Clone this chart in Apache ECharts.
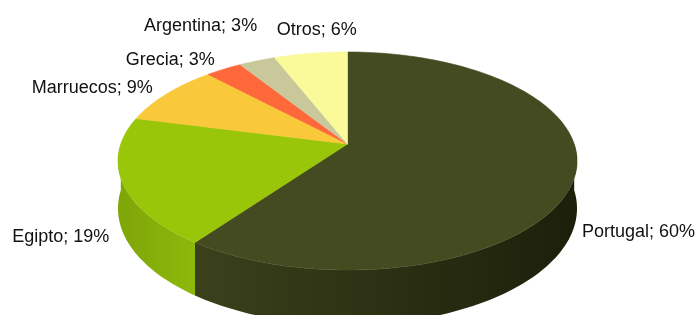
<!DOCTYPE html>
<html>
<head>
<meta charset="utf-8">
<script src="https://cdn.jsdelivr.net/npm/echarts@6/dist/echarts.min.js"></script>
<style>
  html, body { margin: 0; background: #fff; }
  #chart { width: 700px; height: 315px; }
</style>
</head>
<body>
<div id="chart"></div>
<script>
  // datos
  var paises = ["Portugal", "Egipto", "Marruecos", "Grecia", "Argentina", "Otros"];
  var cuotas = [60, 19, 9, 3, 3, 6];

  // colores de la cara superior y del lateral (izq -> der)
  var colores = ["#444b20", "#9ac60a", "#fac93b", "#ff683b", "#c9c89a", "#fafa9b"];
  var coloresLado = [
    ["#3a411b", "#1c200b"],
    ["#7fa508", "#8db90a"],
    ["#d9a92c", "#e6b533"],
    ["#d9552f", "#e65d33"],
    ["#a9a880", "#b5b489"],
    ["#d7d683", "#e2e18a"]
  ];

  // geometria del pastel 3D (proyeccion con algo de perspectiva)
  var cx = 347.5, R = 226.7;
  var persp = 0.156, py = 83.9, qy = 144, grosor = 46.3;
  // ajuste de las etiquetas respecto al borde del sector
  var ajusteEtiqueta = [[8, 53], [-13, 55], [-14, -6], [-9, -9], [0, -35], [-34, -23]];
  var alineaEtiqueta = ["left", "right", "right", "right", "right", "left"];

  var total = cuotas.reduce(function (a, b) { return a + b; }, 0);

  // theta en grados, en sentido horario desde las 12
  function punto(theta, abajo) {
    var r = theta * Math.PI / 180;
    var u = Math.sin(r), v = -Math.cos(r);
    var den = 1 - persp * v;
    var x = cx + R * u / den;
    var y = (py * v + qy) / den;
    if (abajo) y += grosor / den;
    return [x, y];
  }
  function arco(a0, a1, abajo) {
    var pts = [];
    var n = Math.max(2, Math.ceil((a1 - a0) / 1.5));
    for (var i = 0; i <= n; i++) {
      pts.push(punto(a0 + (a1 - a0) * i / n, abajo));
    }
    return pts;
  }

  var myChart = echarts.init(document.getElementById("chart"));

  var option = {
    animation: false,
    series: [{
      type: "custom",
      coordinateSystem: "none",
      data: cuotas.map(function (v) { return [v]; }),
      renderItem: function (params, api) {
        var i = params.dataIndex;
        var antes = 0;
        for (var j = 0; j < i; j++) antes += cuotas[j];
        var a0 = antes / total * 360;
        var a1 = (antes + api.value(0)) / total * 360;
        var hijos = [];

        // lateral visible (mitad delantera)
        var s0 = Math.max(a0, 90), s1 = Math.min(a1, 270);
        if (s1 > s0) {
          var arriba = arco(s0, s1, false);
          var abajo = arco(s0, s1, true).reverse();
          hijos.push({
            type: "polygon",
            z2: 1,
            shape: { points: arriba.concat(abajo) },
            style: {
              fill: new echarts.graphic.LinearGradient(0, 0, 1, 0, [
                { offset: 0, color: coloresLado[i][0] },
                { offset: 1, color: coloresLado[i][1] }
              ])
            }
          });
        }

        // cara superior (el centro del disco cae en (cx, qy))
        hijos.push({
          type: "polygon",
          z2: 5,
          shape: { points: [[cx, qy]].concat(arco(a0, a1, false)) },
          style: { fill: colores[i], stroke: colores[i], lineWidth: 0.6 }
        });

        // etiqueta
        var medio = (a0 + a1) / 2;
        var p = punto(medio, false);
        hijos.push({
          type: "text",
          z2: 20,
          x: p[0] + ajusteEtiqueta[i][0],
          y: p[1] + ajusteEtiqueta[i][1],
          style: {
            text: paises[i] + "; " + api.value(0) + "%",
            fill: "#111",
            fontSize: 18,
            fontFamily: "'Liberation Sans', Arial, sans-serif",
            align: alineaEtiqueta[i],
            verticalAlign: "middle"
          }
        });

        return { type: "group", children: hijos };
      }
    }]
  };

  myChart.setOption(option);
</script>
</body>
</html>
